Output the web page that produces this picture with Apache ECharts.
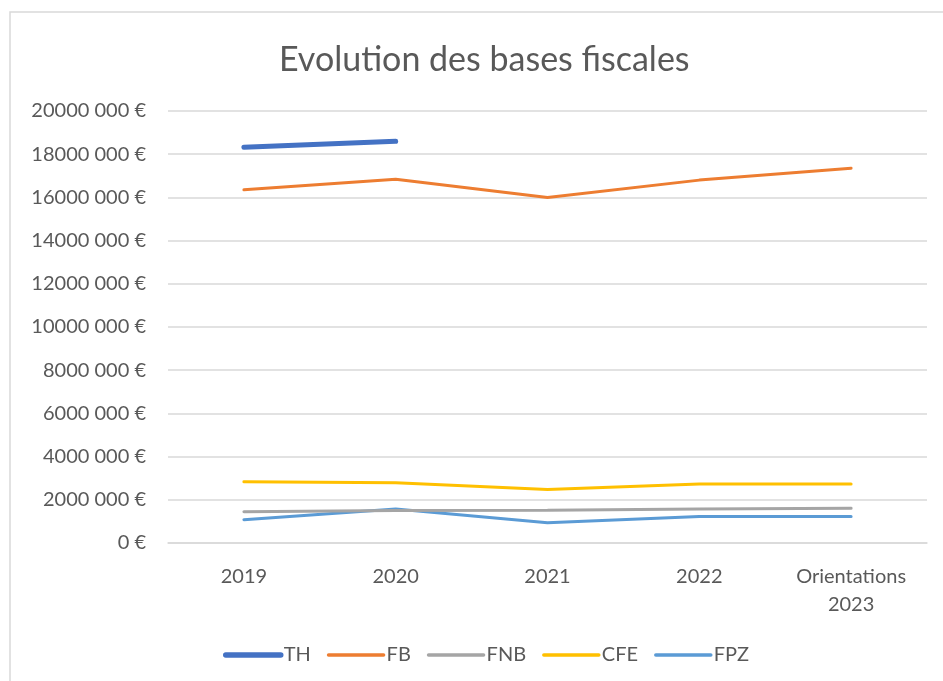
<!DOCTYPE html>
<html style="height: 100%">
<head>
<meta charset="utf-8"/>
<script type="text/javascript" src="https://cdn.jsdelivr.net/npm/echarts@6/dist/echarts.min.js"></script>
</head>
<body style="height: 100%; margin: 0; background: #fff">
<div id="container" style="width: 943px; height: 681px"></div>
<script type="text/javascript">
// data (euros)
var years = ['2019', '2020', '2021', '2022', 'Orientations\n2023'];
var thValues = [18320000, 18600000, null, null, null];
var fbValues = [16350000, 16840000, 16000000, 16800000, 17350000];
var fnbValues = [1450000, 1500000, 1520000, 1570000, 1610000];
var cfeValues = [2830000, 2790000, 2480000, 2730000, 2730000];
var fpzValues = [1080000, 1570000, 940000, 1230000, 1230000];

var seriesNames = ['TH', 'FB', 'FNB', 'CFE', 'FPZ'];
var seriesColors = ['#4472C4', '#ED7D31', '#A5A5A5', '#FFC000', '#5B9BD5'];
var seriesWidths = [5, 3, 3, 3, 3];
var seriesData = [thValues, fbValues, fnbValues, cfeValues, fpzValues];

var fontName = 'Lato, "Open Sans", sans-serif';

function euroLabel(v){
	if(v == 0) {
		return '0 €';
	}
	return Math.floor(v / 1000) + ' 000 €';
}

var series = [];
var legendItems = [];
for(var i=0;i<seriesNames.length;i++) {
	series.push({
		name: seriesNames[i],
		type: 'line',
		data: seriesData[i],
		showSymbol: false,
		symbol: 'none',
		color: seriesColors[i],
		lineStyle: {width: seriesWidths[i], color: seriesColors[i], cap: 'round'},
		connectNulls: false,
		z: 10 - i
	});
	legendItems.push({
		name: seriesNames[i],
		lineStyle: {width: seriesWidths[i] + 0.5, color: seriesColors[i], cap: 'round'}
	});
}

var myChart = echarts.init(document.getElementById('container'));
var option = {
	backgroundColor: '#fff',
	animation: false,
	graphic: [{
		type: 'rect',
		shape: {x: 10, y: 12, width: 1200, height: 1200},
		style: {fill: 'none', stroke: '#D9D9D9', lineWidth: 1.5},
		silent: true,
		z: -10
	}],
	title: {
		text: 'Evolution des bases fiscales',
		left: 274,
		top: 38,
		textStyle: {fontFamily: fontName, fontSize: 34, fontWeight: 'normal', color: '#595959'}
	},
	grid: {left: 168, right: 16, top: 111, bottom: 138},
	xAxis: {
		type: 'category',
		data: years,
		boundaryGap: true,
		axisLine: {lineStyle: {color: '#D9D9D9', width: 1.5}},
		axisTick: {show: false},
		axisLabel: {
			fontFamily: fontName, fontSize: 20, color: '#595959',
			margin: 20, lineHeight: 28, interval: 0
		}
	},
	yAxis: {
		type: 'value',
		min: 0,
		max: 20000000,
		interval: 2000000,
		axisLine: {show: false},
		axisTick: {show: false},
		splitLine: {lineStyle: {color: '#D9D9D9', width: 1.5}},
		axisLabel: {
			fontFamily: fontName, fontSize: 20, color: '#595959',
			margin: 22, formatter: euroLabel
		}
	},
	legend: {
		bottom: 11,
		left: 218,
		itemWidth: 55,
		itemHeight: 14,
		itemGap: 16,
		itemStyle: {opacity: 0},
		textStyle: {fontFamily: fontName, fontSize: 20, color: '#595959', padding: [0, 0, 0, -2]},
		data: legendItems
	},
	series: series
};
myChart.setOption(option);
</script>
</body>
</html>
